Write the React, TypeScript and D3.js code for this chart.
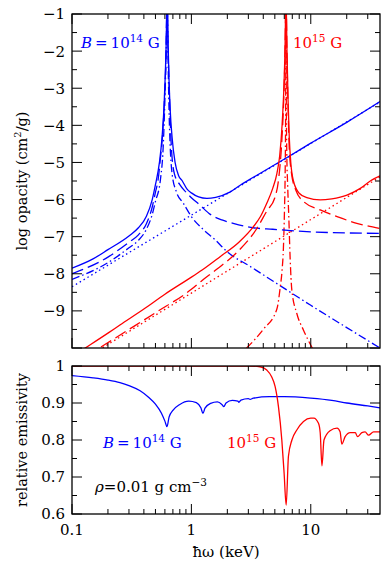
import React from 'react';
import * as d3 from 'd3';

// log opacity (cm^2/g) vs photon energy (keV)
const blueSolid: [number, number][] = [
  [0.1, -7.85], [0.15, -7.6], [0.2, -7.35], [0.3, -6.98], [0.36, -6.76], [0.42, -6.45],
  [0.47, -6.0], [0.5, -5.6], [0.54, -5.0], [0.568, -4.32], [0.59, -3.5], [0.605, -2.6],
  [0.615, -1.8], [0.626, -0.5], [0.638, -1.8], [0.65, -2.8], [0.665, -3.6], [0.689, -4.32],
  [0.73, -5.0], [0.78, -5.35], [0.84, -5.5], [0.92, -5.72], [1.0, -5.82], [1.15, -5.93],
  [1.35, -5.97], [1.6, -5.94], [2.1, -5.8], [2.6, -5.6], [3.3, -5.4], [4.6, -5.13],
  [6.7, -4.82], [10, -4.48], [20, -3.92], [38, -3.36],
];
const blueDashed: [number, number][] = [
  [0.1, -8.0], [0.2, -7.55], [0.3, -7.15], [0.36, -6.95], [0.42, -6.65], [0.47, -6.2],
  [0.5, -5.8], [0.526, -5.47], [0.55, -4.9], [0.575, -4.2], [0.6, -3.0], [0.615, -1.9],
  [0.626, -0.5], [0.638, -1.9], [0.655, -3.2], [0.68, -4.6], [0.72, -5.3], [0.8, -5.6],
  [0.9, -5.8], [1.0, -5.95], [1.18, -6.15], [1.44, -6.4], [1.8, -6.55], [2.24, -6.64],
  [3.3, -6.76], [4.8, -6.8], [10, -6.87], [20, -6.9], [38, -6.91],
];
const blueDashDot: [number, number][] = [
  [0.1, -8.15], [0.2, -7.7], [0.3, -7.3], [0.36, -7.1], [0.42, -6.8], [0.47, -6.4],
  [0.5, -6.05], [0.55, -5.47], [0.58, -4.6], [0.6, -3.3], [0.615, -2.0], [0.626, -0.5],
  [0.636, -2.0], [0.65, -3.6], [0.689, -5.3], [0.75, -5.8], [0.857, -6.1], [1.0, -6.46],
  [1.25, -6.8], [1.6, -7.1], [1.98, -7.4], [3.1, -7.8], [5.53, -8.32], [10, -8.85],
  [20, -9.45], [38, -10.0],
];
const blueDotted: [number, number][] = [[0.1, -8.35], [1, -6.42], [38, -3.37]];

const redSolid: [number, number][] = [
  [0.1, -10.23], [0.129, -10.0], [0.2, -9.6], [0.252, -9.38], [0.4, -8.95], [0.6, -8.55],
  [0.915, -8.17], [1.23, -7.9], [1.74, -7.54], [2.5, -7.15], [3.31, -6.73], [3.8, -6.45],
  [4.28, -6.1], [4.8, -5.7], [5.2, -5.3], [5.5, -4.8], [5.75, -4.0], [5.95, -3.0],
  [6.08, -2.0], [6.2, -0.5], [6.32, -2.0], [6.45, -3.3], [6.6, -4.3], [6.8, -5.0],
  [7.16, -5.5], [8.0, -5.83], [9.27, -5.95], [12, -6.01], [15, -5.98], [20.1, -5.88],
  [26, -5.7], [31.5, -5.5], [38, -5.36],
];
const redDashed: [number, number][] = [
  [0.1, -10.45], [0.19, -9.9], [0.3, -9.5], [0.5, -9.05], [1.0, -8.42], [1.23, -8.18],
  [1.63, -7.88], [2.5, -7.37], [3.5, -6.8], [4.3, -6.3], [5.0, -5.95], [5.4, -5.4],
  [5.7, -4.5], [5.95, -3.2], [6.08, -2.1], [6.2, -0.5], [6.32, -2.1], [6.45, -3.5],
  [6.6, -4.6], [6.9, -5.3], [7.5, -5.75], [8.69, -6.05], [12, -6.28], [16.6, -6.46],
  [24.3, -6.64], [38, -6.78],
];
const redDashDot: [number, number][] = [
  [2.9, -10.0], [4.0, -9.5], [5.2, -8.95], [5.53, -8.4], [5.75, -7.9], [5.9, -7.3],
  [6.02, -6.3], [6.1, -5.3], [6.16, -3.5], [6.2, -0.5], [6.24, -3.5], [6.3, -4.8],
  [6.4, -5.6], [6.55, -6.5], [6.72, -7.6], [6.94, -8.44], [7.64, -9.07], [8.69, -9.52],
  [10.3, -10.0],
];
const redDotted: [number, number][] = [[0.1, -10.5], [1, -8.52], [38, -5.39]];

// relative emissivity
const blueEmis: [number, number][] = [
  [0.1, 0.974], [0.15, 0.968], [0.2, 0.962], [0.252, 0.955], [0.3, 0.947], [0.372, 0.933],
  [0.44, 0.915], [0.5, 0.897], [0.56, 0.873], [0.6, 0.851], [0.625, 0.836], [0.65, 0.862],
  [0.7, 0.88], [0.8, 0.896], [0.95, 0.905], [1.1, 0.901], [1.2, 0.887], [1.25, 0.872],
  [1.3, 0.886], [1.45, 0.899], [1.65, 0.903], [1.8, 0.896], [1.87, 0.89], [1.95, 0.9],
  [2.2, 0.907], [2.45, 0.905], [2.5, 0.902], [2.6, 0.908], [3.0, 0.912], [3.1, 0.91],
  [3.3, 0.913], [4.5, 0.917], [6, 0.917], [10, 0.913], [15, 0.907], [20, 0.9],
  [30, 0.892], [38, 0.887],
];
const redEmis: [number, number][] = [
  [0.1, 1.0], [1, 1.0], [3, 1.0], [3.76, 0.998], [4.28, 0.989], [4.7, 0.971],
  [5.03, 0.944], [5.36, 0.89], [5.72, 0.8], [5.98, 0.71], [6.22, 0.624], [6.5, 0.756],
  [6.95, 0.8], [7.64, 0.827], [8.69, 0.85], [10, 0.859], [10.6, 0.859], [11.6, 0.845],
  [12, 0.819], [12.4, 0.73], [12.9, 0.8], [14.5, 0.825], [16.6, 0.832], [17.6, 0.822],
  [18.2, 0.789], [19.4, 0.809], [21.4, 0.82], [23.6, 0.82], [24.6, 0.809], [26.8, 0.82],
  [28.5, 0.822], [30.5, 0.813], [33.6, 0.822], [38, 0.822],
];

const xTickLabels = ['0.1', '1', '10'];
const xLabelValues = [0.1, 1, 10];
const yTopLabels = [-1, -2, -3, -4, -5, -6, -7, -8, -9];
const yBotLabels = [1, 0.9, 0.8, 0.7, 0.6];

const BLUE = '#0000ff';
const RED = '#ff0000';
const FONT = '"DejaVu Serif", "Liberation Serif", serif';

const W = 382, H = 565;
const L = 72, R = 380;
const TOP = { y0: 14, y1: 348 };
const BOT = { y0: 366, y1: 514 };

export default function App() {
  const x = d3.scaleLog().domain([0.1, 38]).range([L, R]);
  const yTop = d3.scaleLinear().domain([-10, -1]).range([TOP.y1, TOP.y0]);
  const yBot = d3.scaleLinear().domain([0.6, 1]).range([BOT.y1, BOT.y0]);

  const lineTop = d3.line<[number, number]>()
    .x(d => x(d[0])).y(d => yTop(d[1])).curve(d3.curveMonotoneX);
  const lineBot = d3.line<[number, number]>()
    .x(d => x(d[0])).y(d => yBot(d[1])).curve(d3.curveMonotoneX);

  // log ticks along x
  const xTicks: { v: number; major: boolean }[] = [];
  [0.1, 1, 10].forEach(dec => {
    for (let k = 1; k <= 9; k++) {
      const v = dec * k;
      if (v <= 38) xTicks.push({ v, major: k === 1 });
    }
  });
  const topYTicks = d3.range(-10, -0.99, 0.5);
  const botYTicks = d3.range(0.6, 1.001, 0.05);

  const xTickMarks = (y0: number, y1: number) => xTicks.map((t, i) => {
    const len = t.major ? 10 : 5;
    const xx = x(t.v);
    return (
      <g key={i}>
        <line x1={xx} x2={xx} y1={y1} y2={y1 - len} stroke="#000" />
        <line x1={xx} x2={xx} y1={y0} y2={y0 + len} stroke="#000" />
      </g>
    );
  });

  const yTickMarks = (vals: number[], sc: d3.ScaleLinear<number, number>, isMajor: (v: number) => boolean) =>
    vals.map((v, i) => {
      const len = isMajor(v) ? 10 : 5;
      const yy = sc(v);
      return (
        <g key={i}>
          <line x1={L} x2={L + len} y1={yy} y2={yy} stroke="#000" />
          <line x1={R} x2={R - len} y1={yy} y2={yy} stroke="#000" />
        </g>
      );
    });

  const sup = (s: string) => (
    <tspan dy={-6} fontSize={10.5}>{s}</tspan>
  );

  return (
    <svg width={W} height={H} style={{ position: 'absolute', left: 0, top: 0, background: '#fff' }}
      fontFamily={FONT}>
      <defs>
        <clipPath id="clipTop"><rect x={L} y={TOP.y0} width={R - L} height={TOP.y1 - TOP.y0} /></clipPath>
        <clipPath id="clipBot"><rect x={L} y={BOT.y0} width={R - L} height={BOT.y1 - BOT.y0} /></clipPath>
      </defs>

      {/* top panel curves */}
      <g clipPath="url(#clipTop)" fill="none" strokeWidth={1.3}>
        <path d={lineTop(blueDotted)!} stroke={BLUE} strokeDasharray="1.5 3" />
        <path d={lineTop(redDotted)!} stroke={RED} strokeDasharray="1.5 3" />
        <path d={lineTop(blueDashDot)!} stroke={BLUE} strokeDasharray="8 3 1.5 3" />
        <path d={lineTop(redDashDot)!} stroke={RED} strokeDasharray="8 3 1.5 3" />
        <path d={lineTop(blueDashed)!} stroke={BLUE} strokeDasharray="12 5" />
        <path d={lineTop(redDashed)!} stroke={RED} strokeDasharray="12 5" />
        <path d={lineTop(blueSolid)!} stroke={BLUE} />
        <path d={lineTop(redSolid)!} stroke={RED} />
      </g>

      {/* bottom panel curves */}
      <g clipPath="url(#clipBot)" fill="none" strokeWidth={1.3}>
        <path d={lineBot(blueEmis)!} stroke={BLUE} />
        <path d={lineBot(redEmis)!} stroke={RED} />
      </g>

      {/* frames and ticks */}
      <g strokeWidth={1}>
        {xTickMarks(TOP.y0, TOP.y1)}
        {xTickMarks(BOT.y0, BOT.y1)}
        {yTickMarks(topYTicks, yTop, v => Math.abs(v - Math.round(v)) < 1e-6)}
        {yTickMarks(botYTicks, yBot, v => Math.abs(v * 10 - Math.round(v * 10)) < 1e-6)}
      </g>
      <rect x={L} y={TOP.y0} width={R - L} height={TOP.y1 - TOP.y0} fill="none" stroke="#000" strokeWidth={1.3} />
      <rect x={L} y={BOT.y0} width={R - L} height={BOT.y1 - BOT.y0} fill="none" stroke="#000" strokeWidth={1.3} />

      {/* tick labels */}
      <g fontSize={15} fill="#000">
        {yTopLabels.map(v => (
          <text key={v} x={65} y={yTop(v)} dy="0.36em" textAnchor="end">{'\u2212' + Math.abs(v)}</text>
        ))}
        {yBotLabels.map(v => (
          <text key={v} x={65} y={yBot(v)} dy="0.36em" textAnchor="end">{String(v)}</text>
        ))}
        {xLabelValues.map((v, i) => (
          <text key={v} x={x(v)} y={535} textAnchor="middle">{xTickLabels[i]}</text>
        ))}
      </g>

      {/* axis titles */}
      <text x={x(Math.sqrt(0.1 * 38))} y={557} textAnchor="middle" fontSize={15}>ħω (keV)</text>
      <text transform={`translate(27,${(TOP.y0 + TOP.y1) / 2}) rotate(-90)`} textAnchor="middle" fontSize={14.5}>
        log opacity (cm<tspan dy={-6} fontSize={10}>2</tspan><tspan dy={6}>/g)</tspan>
      </text>
      <text transform={`translate(27,${(BOT.y0 + BOT.y1) / 2}) rotate(-90)`} textAnchor="middle" fontSize={14.5}>
        relative emissivity
      </text>

      {/* annotations */}
      <text x={81} y={48} fill={BLUE} fontSize={15}>
        <tspan fontStyle="italic">B</tspan>{'\u2009=\u2009'}10{sup('14')}<tspan dy={6}> G</tspan>
      </text>
      <text x={293} y={48} fill={RED} fontSize={15}>
        10{sup('15')}<tspan dy={6}> G</tspan>
      </text>
      <text x={103} y={448} fill={BLUE} fontSize={15}>
        <tspan fontStyle="italic">B</tspan>{'\u2009=\u2009'}10{sup('14')}<tspan dy={6}> G</tspan>
      </text>
      <text x={227} y={448} fill={RED} fontSize={15}>
        10{sup('15')}<tspan dy={6}> G</tspan>
      </text>
      <text x={95} y={492} fill="#000" fontSize={15}>
        <tspan fontStyle="italic">ρ</tspan>=0.01 g cm<tspan dy={-6} fontSize={10.5}>−3</tspan>
      </text>
    </svg>
  );
}
